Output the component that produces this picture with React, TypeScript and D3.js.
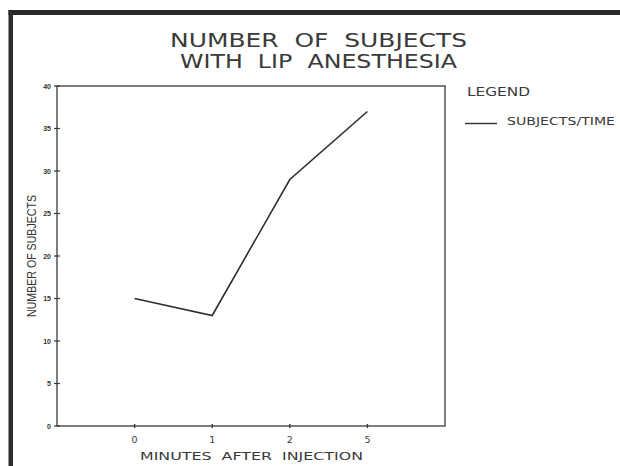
import React from "react";
import * as d3 from "d3";

const categories = ["0", "1", "2", "5"];
const subjects = [15, 13, 29, 37];
const yTicks = [0, 5, 10, 15, 20, 25, 30, 35, 40];
const titleLines = ["NUMBER  OF  SUBJECTS", "WITH  LIP  ANESTHESIA"];
const xTitle = "MINUTES  AFTER  INJECTION";
const yTitle = "NUMBER OF SUBJECTS";
const legendTitle = "LEGEND";
const seriesName = "SUBJECTS/TIME";

const W = 620;
const H = 466;
const plot = { left: 57, right: 445, top: 86, bottom: 426 };
const ink = "#2e2e2e";
const font = "'Liberation Sans', Arial, sans-serif";
const wide = "'DejaVu Sans', 'Liberation Sans', sans-serif";

export default function App() {
  const x = d3
    .scalePoint<string>()
    .domain(categories)
    .range([plot.left, plot.right])
    .padding(1);
  const y = d3.scaleLinear().domain([0, 40]).range([plot.bottom, plot.top]);
  const data = categories.map((c, i) => ({ c, v: subjects[i] }));
  const line = d3
    .line<{ c: string; v: number }>()
    .x((d) => x(d.c) as number)
    .y((d) => y(d.v));

  return (
    <svg
      width={W}
      height={H}
      viewBox={`0 0 ${W} ${H}`}
      style={{ position: "absolute", left: 0, top: 0, background: "#fff" }}
    >
      <rect x={0} y={0} width={W} height={H} fill="#fff" />
      {/* frame */}
      <rect x={8.5} y={10} width={W - 8.5} height={5} fill="#2b2b2b" />
      <rect x={8.5} y={10} width={4.5} height={H - 10} fill="#2b2b2b" />

      {/* title */}
      {titleLines.map((t, i) => (
        <text
          key={t}
          x={318.5}
          y={46.5 + i * 21.5}
          textAnchor="middle"
          fontFamily={wide}
          fontSize={19}
          fill="#3a3a3a"
          style={{ whiteSpace: "pre" }}
          xmlSpace="preserve"
          textLength={i === 0 ? 297 : 277}
          lengthAdjust="spacingAndGlyphs"
        >
          {t}
        </text>
      ))}

      {/* plot box */}
      <rect
        x={plot.left}
        y={plot.top}
        width={plot.right - plot.left}
        height={plot.bottom - plot.top}
        fill="none"
        stroke="#3a3a3a"
        strokeWidth={1.3}
      />

      {/* y ticks */}
      {yTicks.map((t) => (
        <g key={t}>
          <line
            x1={plot.left - 3}
            x2={plot.left + 3}
            y1={y(t)}
            y2={y(t)}
            stroke="#3a3a3a"
            strokeWidth={1.2}
          />
          <text
            x={plot.left - 6}
            y={y(t) + 2.5}
            textAnchor="end"
            fontFamily={font}
            fontWeight="bold"
            fontSize={7}
            fill="#333"
          >
            {t}
          </text>
        </g>
      ))}

      {/* x ticks */}
      {categories.map((c) => (
        <g key={c}>
          <line
            x1={x(c)}
            x2={x(c)}
            y1={plot.bottom - 2}
            y2={plot.bottom + 2}
            stroke="#3a3a3a"
            strokeWidth={1.4}
          />
          <text
            x={x(c)}
            y={443}
            textAnchor="middle"
            fontFamily={wide}
            fontSize={9.5}
            fill="#3a3a3a"
          >
            {c}
          </text>
        </g>
      ))}

      {/* axis titles */}
      <text
        x={251.5}
        y={459.5}
        textAnchor="middle"
        fontFamily={wide}
        fontSize={11}
        fill="#3a3a3a"
        style={{ whiteSpace: "pre" }}
        xmlSpace="preserve"
        textLength={223}
        lengthAdjust="spacingAndGlyphs"
      >
        {xTitle}
      </text>
      <text
        transform={`translate(35.5,256) rotate(-90)`}
        textAnchor="middle"
        fontFamily={font}
        fontSize={13.5}
        fill="#333"
        textLength={122}
        lengthAdjust="spacingAndGlyphs"
      >
        {yTitle}
      </text>

      {/* data line */}
      <path d={line(data) ?? ""} fill="none" stroke={ink} strokeWidth={1.6} />

      {/* legend */}
      <text
        x={467}
        y={96}
        fontFamily={wide}
        fontSize={12}
        fill="#3a3a3a"
        textLength={63}
        lengthAdjust="spacingAndGlyphs"
      >
        {legendTitle}
      </text>
      <line x1={465} x2={497} y1={123.5} y2={123.5} stroke={ink} strokeWidth={1.4} />
      <text
        x={507}
        y={125}
        fontFamily={wide}
        fontSize={10}
        fill="#3a3a3a"
        textLength={108}
        lengthAdjust="spacingAndGlyphs"
      >
        {seriesName}
      </text>
    </svg>
  );
}
